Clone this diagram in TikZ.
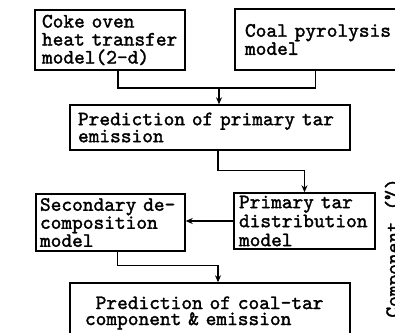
\documentclass[tikz,border=0pt]{standalone}
\usepackage{fontspec}
\usetikzlibrary{arrows.meta}
\newfontfamily\boxfam{lmmono10-regular.otf}[FakeBold=1.6]
\newcommand{\boxfont}[1]{\boxfam\fontsize{20.4}{#1}\selectfont}
\tikzset{
  box/.style={draw, line width=1.4pt, rectangle, align=left, anchor=center,
    inner ysep=0pt, font=\boxfont{#1}},
  box/.default=18,
  link/.style={line width=1.5pt},
  arr/.style={line width=1.5pt, -{Stealth[length=7pt,width=6pt]}}
}
\begin{document}
\begin{tikzpicture}[x=1pt,y=-1pt]
\clip (0,0) rectangle (395,332);
\fill[white] (0,0) rectangle (395,332);
% boxes
\node[box=18, minimum width=150pt, minimum height=60pt, inner xsep=7pt, text width=136pt]
  (b1) at (110,40) {Coke oven\\heat transfer\\model(2—d)};
\node[box=12, minimum width=175pt, minimum height=61pt, inner xsep=10pt, text width=155pt]
  (b2) at (322.5,39.5) {Coal pyrolysis\\model};
\node[box=17, minimum width=280pt, minimum height=45pt, inner xsep=8pt, text width=264pt]
  (b3) at (210,127.5) {Prediction of primary tar\\emission};
\node[box=16, minimum width=149pt, minimum height=57pt, inner xsep=4pt, text width=141pt]
  (b4) at (110.5,222.5) {Secondary de-\\composition\\model};
\node[box=19, minimum width=141pt, minimum height=56pt, inner xsep=5pt, text width=131pt]
  (b5) at (304.5,221) {Primary tar\\distribution\\model};
\node[box=16, minimum width=280pt, minimum height=60pt, inner xsep=15pt, text width=250pt]
  (b6) at (210,313) {\hspace*{10.7pt}Prediction of coal—tar\\component \& emission};
% side label of neighbouring figure (cut at the edge)
\node[rotate=90, anchor=base, inner sep=0pt, font=\boxfont{18}]
  (side) at (399,248) {Component (\%)};
% connectors
\coordinate (j1) at (219,88);
\draw[link] ([xshift=8pt]b1.south) |- (j1);
\draw[link] ([xshift=-7pt]b2.south) |- (j1);
\draw[arr] (j1) -- (j1 |- b3.north);
\draw[arr] ([xshift=8pt]b3.south) -- ++(0,20) -| (b5.north);
\draw[arr] (b5.west) -- (b5.west -| b4.east);
\draw[arr] ([xshift=7pt]b4.south) -- ++(0,14) -| ([xshift=8pt]b6.north);
\end{tikzpicture}
\end{document}
